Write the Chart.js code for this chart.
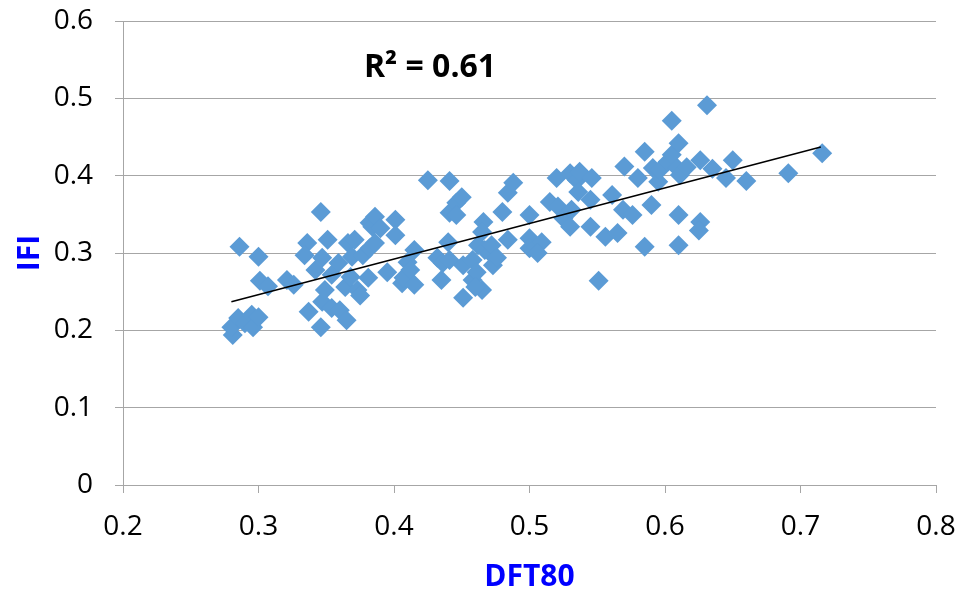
<!DOCTYPE html>
<html>
<head>
<meta charset="utf-8">
<script src="https://cdn.jsdelivr.net/npm/chart.js@4/dist/chart.umd.min.js"></script>
<style>
  body { margin: 0; background: #fff; }
  #wrap { width: 959px; height: 592px; position: relative; }
</style>
</head>
<body>
<div id="wrap"><canvas id="scatter-chart"></canvas></div>
<script>
// values
var dftX = [
  0.281, 0.280, 0.285, 0.290, 0.295, 0.296, 0.300, 0.286, 0.300, 0.301,
  0.307, 0.321, 0.326, 0.336, 0.334, 0.342, 0.337, 0.346, 0.346, 0.347,
  0.347, 0.349, 0.351, 0.354, 0.354, 0.359, 0.360, 0.364, 0.365, 0.366,
  0.368, 0.369, 0.371, 0.373, 0.375, 0.377, 0.381, 0.382, 0.382, 0.384,
  0.386, 0.386, 0.390, 0.395, 0.401, 0.401, 0.406, 0.407, 0.410, 0.412,
  0.415, 0.415, 0.425, 0.432, 0.435, 0.436, 0.440, 0.441, 0.441, 0.441,
  0.446, 0.446, 0.450, 0.451, 0.451, 0.458, 0.458, 0.461, 0.462, 0.465,
  0.460, 0.466, 0.465, 0.467, 0.471, 0.472, 0.473, 0.476, 0.480, 0.484,
  0.488, 0.484, 0.500, 0.500, 0.500, 0.505, 0.509, 0.506, 0.515, 0.520,
  0.521, 0.525, 0.530, 0.531, 0.530, 0.535, 0.537, 0.536, 0.545, 0.546,
  0.545, 0.551, 0.556, 0.561, 0.565, 0.569, 0.570, 0.576, 0.580, 0.585,
  0.585, 0.590, 0.591, 0.595, 0.596, 0.602, 0.605, 0.605, 0.609, 0.610,
  0.611, 0.610, 0.610, 0.616, 0.626, 0.626, 0.625, 0.631, 0.635, 0.645,
  0.650, 0.660, 0.691, 0.716
];
var ifiY = [
  0.194, 0.204, 0.216, 0.209, 0.220, 0.204, 0.217, 0.308, 0.295, 0.264,
  0.257, 0.265, 0.259, 0.313, 0.297, 0.278, 0.224, 0.353, 0.204, 0.237,
  0.294, 0.252, 0.317, 0.229, 0.272, 0.287, 0.226, 0.256, 0.213, 0.313,
  0.269, 0.295, 0.317, 0.252, 0.245, 0.297, 0.268, 0.306, 0.339, 0.334,
  0.347, 0.313, 0.332, 0.275, 0.343, 0.323, 0.261, 0.268, 0.288, 0.278,
  0.304, 0.259, 0.394, 0.294, 0.265, 0.287, 0.314, 0.393, 0.291, 0.352,
  0.365, 0.349, 0.372, 0.284, 0.242, 0.291, 0.265, 0.275, 0.310, 0.252,
  0.256, 0.340, 0.327, 0.304, 0.300, 0.310, 0.284, 0.294, 0.353, 0.378,
  0.391, 0.317, 0.349, 0.319, 0.306, 0.308, 0.314, 0.300, 0.366, 0.397,
  0.360, 0.345, 0.403, 0.356, 0.334, 0.394, 0.405, 0.379, 0.369, 0.397,
  0.334, 0.264, 0.321, 0.375, 0.326, 0.356, 0.412, 0.349, 0.397, 0.431,
  0.308, 0.362, 0.410, 0.392, 0.407, 0.418, 0.427, 0.471, 0.410, 0.442,
  0.401, 0.349, 0.310, 0.411, 0.420, 0.340, 0.329, 0.491, 0.409, 0.397,
  0.420, 0.393, 0.403, 0.429
];
// linear trendline ends as drawn in the picture
var trendX = [0.28, 0.715];
var trendY = [0.237, 0.437];
var rSquared = "R\u00B2 = 0.61";

var puntiDati = dftX.map(function(x, i) { return { x: x, y: ifiY[i] }; });
var puntiTrend = trendX.map(function(x, i) { return { x: x, y: trendY[i] }; });

var etichettaR2 = {
  id: 'etichettaR2',
  afterDatasetsDraw: function(chart) {
    var ctx = chart.ctx;
    var px = chart.scales.x.getPixelForValue(0.4266);
    var py = chart.scales.y.getPixelForValue(0.539);
    ctx.save();
    ctx.font = 'bold 32px "Open Sans", sans-serif';
    ctx.fillStyle = '#000';
    ctx.textAlign = 'center';
    ctx.textBaseline = 'middle';
    ctx.fillText(rSquared, px, py);
    ctx.restore();
  }
};

var grigio = '#a6a6a6';
var fontTick = { family: '"Open Sans", sans-serif', size: 28 };
var fontTitolo = { family: '"Open Sans", sans-serif', size: 30, weight: 'bold', lineHeight: 1 };

new Chart(document.getElementById("scatter-chart"),
{
  type: 'scatter',
  data:
  {
    datasets:
    [
      {
        type: 'line',
        data: puntiTrend,
        borderColor: '#000',
        borderWidth: 1.5,
        pointRadius: 0,
        fill: false,
        order: 0
      },
      {
        data: puntiDati,
        pointStyle: 'rectRot',
        pointRadius: 10,
        pointHoverRadius: 10,
        backgroundColor: '#5b9bd5',
        borderWidth: 0,
        order: 1
      }
    ]
  },
  options:
  {
    responsive: true,
    maintainAspectRatio: false,
    animation: false,
    layout: { padding: { left: 0, right: 23, top: 21, bottom: 0 } },
    plugins: { legend: { display: false }, tooltip: { enabled: false } },
    scales:
    {
      x:
      {
        type: 'linear',
        min: 0.2,
        max: 0.8,
        afterFit: function(s) { s.height = 107; s.paddingLeft = 0; s.paddingRight = 0; },
        border: { color: grigio, width: 1 },
        grid: { drawOnChartArea: false, drawTicks: true, tickLength: 8, color: grigio },
        ticks:
        {
          stepSize: 0.1,
          padding: 17,
          color: '#000',
          font: fontTick,
          maxRotation: 0,
          callback: function(v) { return String(+v.toFixed(1)); }
        },
        title:
        {
          display: true,
          text: 'DFT80',
          color: '#0000ff',
          font: fontTitolo,
          padding: { top: 0, bottom: 0 }
        }
      },
      y:
      {
        min: 0,
        max: 0.6,
        afterFit: function(s) { s.width = 123; s.paddingTop = 0; s.paddingBottom = 0; },
        border: { color: grigio, width: 1 },
        grid: { color: grigio, tickLength: 8 },
        ticks:
        {
          stepSize: 0.1,
          padding: 22,
          color: '#000',
          font: fontTick,
          callback: function(v) { return String(+v.toFixed(1)); }
        },
        title:
        {
          display: true,
          text: 'IFI',
          color: '#0000ff',
          font: fontTitolo,
          padding: { top: 15, bottom: 0 }
        }
      }
    }
  },
  plugins: [etichettaR2]
});
</script>
</body>
</html>
